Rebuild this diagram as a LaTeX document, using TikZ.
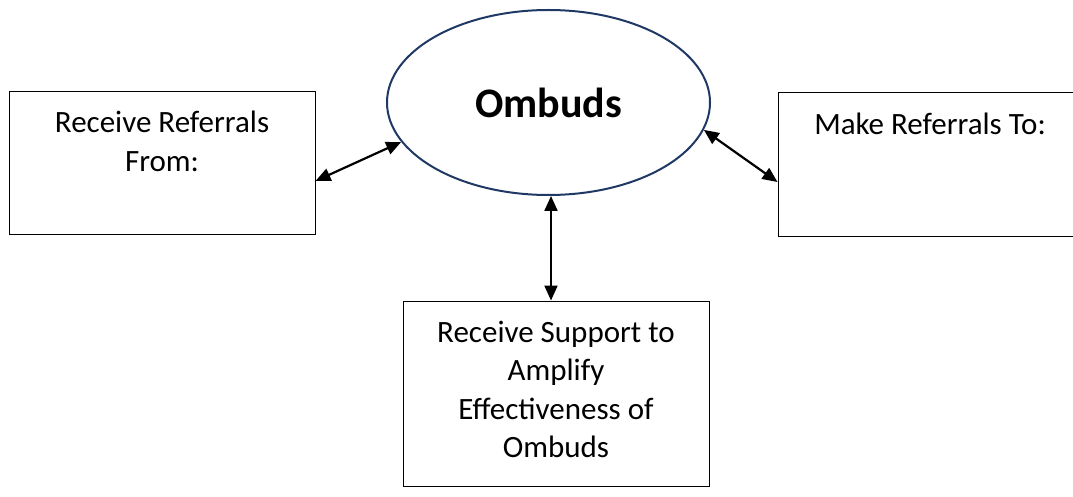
\documentclass[tikz,border=0pt]{standalone}
\usepackage{fontspec}
\setmainfont{Carlito}
\usetikzlibrary{shapes.geometric,arrows.meta}
\definecolor{ovalblue}{HTML}{203864}
\newcommand{\boxtxt}[3]{\begin{minipage}[c][#1][t]{#2}\centering\fontsize{31}{38.5}\selectfont #3\par\end{minipage}}
\begin{document}
\begin{tikzpicture}[x=1pt,y=-1pt,
  box/.style={draw=black,line width=1pt,inner sep=0pt,rectangle},
  oval/.style={ellipse,draw=ovalblue,line width=2pt,minimum width=323pt,minimum height=185pt,inner sep=0pt,font=\fontsize{42}{50}\selectfont\bfseries},
  link/.style={line width=2.2pt,{Triangle[length=15pt,width=13pt]}-{Triangle[length=15pt,width=13pt]}}]
\useasboundingbox (0,0) rectangle (1073,497);
\node[oval] (omb) at (548.5,102.5) {Ombuds};
\node[box] (lb) at (162,163) {\boxtxt{142pt}{306pt}{\rule{0pt}{41pt}Receive Referrals\\From:}};
\node[box] (rb) at (930,164.5) {\boxtxt{143pt}{304pt}{\rule{0pt}{42pt}Make Referrals To:}};
\node[box] (bb) at (556,393.5) {\boxtxt{185pt}{306pt}{\rule{0pt}{41pt}Receive Support to\\Amplify\\Effectiveness of\\Ombuds}};
\draw[link] ([yshift=-18pt]lb.east) -- (omb.195);
\draw[link] (omb.350) -- ([yshift=-17.5pt]rb.west);
\draw[link] ([xshift=2.5pt]omb.south) -- ([xshift=2.5pt]omb.south |- bb.north);
\end{tikzpicture}
\end{document}
